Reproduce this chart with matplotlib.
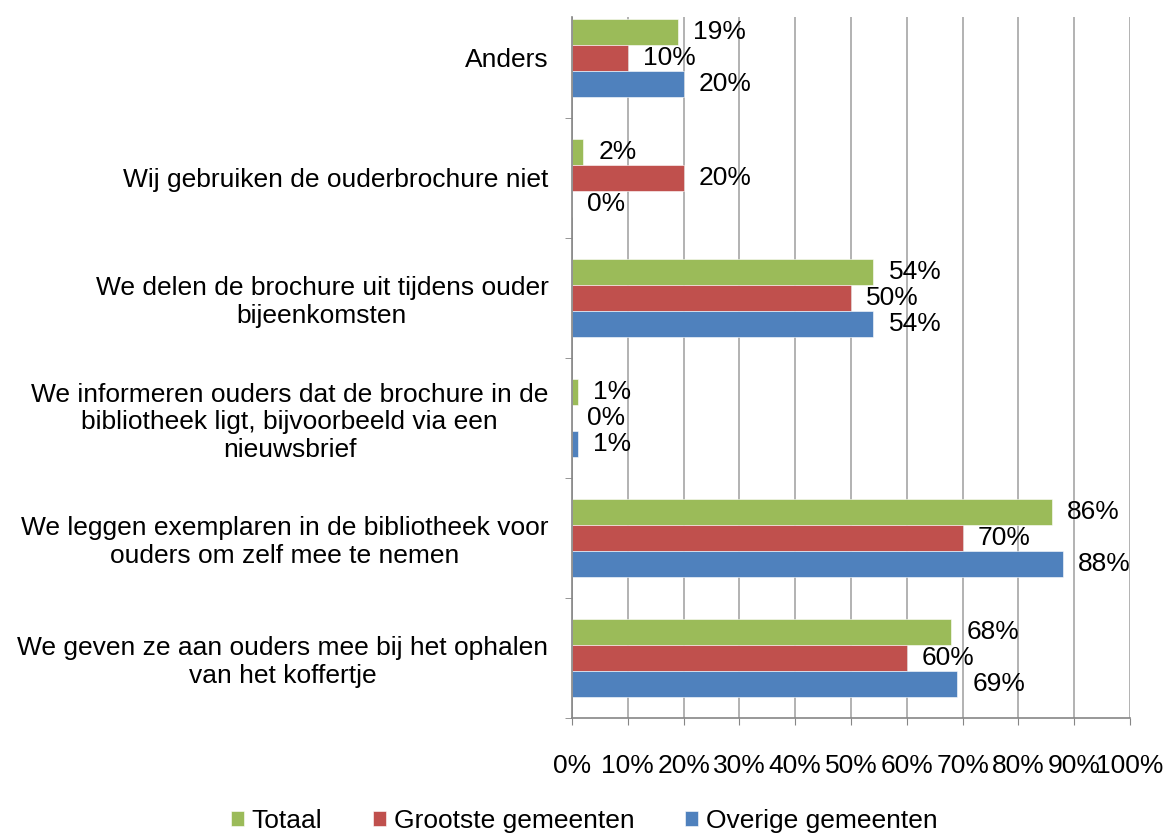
import numpy as np
import matplotlib.pyplot as plt
from matplotlib.ticker import FixedLocator, PercentFormatter

plt.rcParams['font.family'] = ['Liberation Sans', 'DejaVu Sans']

categories = [
    "We geven ze aan ouders mee bij het ophalen\nvan het koffertje",
    "We leggen exemplaren in de bibliotheek voor\nouders om zelf mee te nemen",
    "We informeren ouders dat de brochure in de\nbibliotheek ligt, bijvoorbeeld via een\nnieuwsbrief",
    "We delen de brochure uit tijdens ouder\nbijeenkomsten",
    "Wij gebruiken de ouderbrochure niet",
    "Anders",
]
totaal = [68, 86, 1, 54, 2, 19]
grootste = [60, 70, 0, 50, 20, 10]
overige = [69, 88, 1, 54, 0, 20]

series = [
    ("Totaal", totaal, "#9BBB59"),
    ("Grootste gemeenten", grootste, "#C0504D"),
    ("Overige gemeenten", overige, "#4F81BD"),
]

fig = plt.figure(figsize=(11.68, 8.36), dpi=100)
ax = fig.add_axes([572 / 1168, 1 - 718 / 836, (1130 - 572) / 1168, (718 - 17) / 836])

y = np.arange(len(categories))
h = 0.215
offsets = [h, 0, -h]
fs = 19

for (name, vals, col), off in zip(series, offsets):
    bars = ax.barh(y + off, vals, height=h, color=col, label=name,
                   edgecolor="white", linewidth=0.4)
    for b, v in zip(bars, vals):
        ax.annotate(f"{v}%", (b.get_width(), b.get_y() + h / 2),
                    xytext=(11, 0), textcoords="offset points",
                    va="center", ha="left", fontsize=fs, color="black")

ax.set_xlim(0, 100)
ax.set_ylim(-0.5, 5.34)
ax.xaxis.set_major_locator(FixedLocator(np.arange(0, 101, 10)))
ax.xaxis.set_major_formatter(PercentFormatter(decimals=0))
ax.grid(axis="x", color="#A6A6A6", linewidth=1.2)
ax.set_axisbelow(True)

ax.set_yticks(y)
ax.set_yticklabels(categories, fontsize=fs, multialignment="center")
ax.yaxis.set_minor_locator(FixedLocator(np.arange(-0.5, 5.6, 1.0)))
ax.tick_params(axis="y", which="major", length=0, pad=17)
ax.tick_params(axis="y", which="minor", length=5, color="#868686", direction="out")
ax.tick_params(axis="x", length=5, color="#868686", direction="out", pad=21, labelsize=fs)

for s in ["top", "right"]:
    ax.spines[s].set_visible(False)
for s in ["left", "bottom"]:
    ax.spines[s].set_color("#868686")
    ax.spines[s].set_linewidth(1.2)

fig.legend(loc="center", bbox_to_anchor=(0.5, 1 - 821 / 836), ncol=3, frameon=False,
           fontsize=fs, handlelength=0.5, handleheight=0.5, handletextpad=0.3,
           columnspacing=1.9)

fig.savefig("out.png", dpi=100)
